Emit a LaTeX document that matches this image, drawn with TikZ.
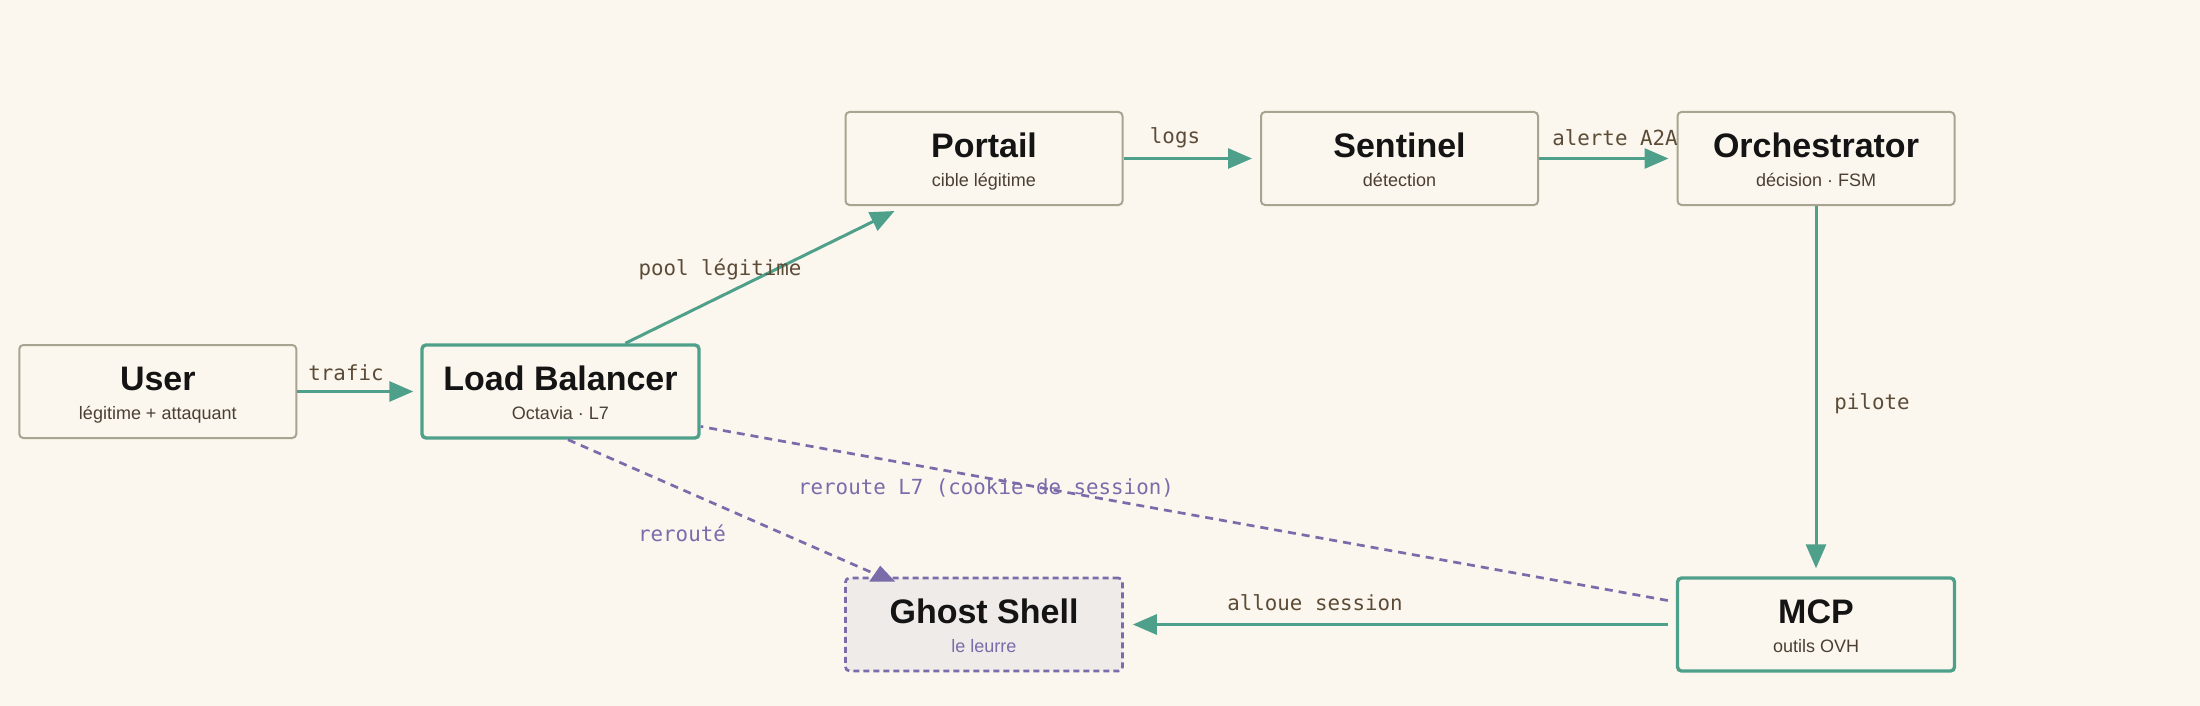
\documentclass[tikz,border=0pt]{standalone}
\usepackage{fontspec}
\setmainfont{Liberation Sans}
\newfontfamily\monof{DejaVu Sans Mono}
\usetikzlibrary{arrows.meta,calc}
\definecolor{bgc}{HTML}{FBF7EE}
\definecolor{grayb}{HTML}{A9A491}
\definecolor{tealc}{HTML}{4FA08B}
\definecolor{purplec}{HTML}{7A6BAA}
\definecolor{ghostfill}{HTML}{EFEBE8}
\definecolor{titlec}{HTML}{141414}
\definecolor{subc}{HTML}{4B3F33}
\definecolor{lblc}{HTML}{5C4B37}
\begin{document}
\begin{tikzpicture}[x=0.5pt,y=-0.5pt,
  box/.style={draw=grayb, line width=1pt, rounded corners=2pt, fill=bgc,
    minimum width=138.5pt, minimum height=46.5pt, inner sep=0pt},
  boxhi/.style={box, draw=tealc, line width=1.7pt},
  ghostbox/.style={box, draw=purplec, fill=ghostfill, line width=1.3pt, dash pattern=on 3pt off 2pt},
  titletxt/.style={anchor=base, inner sep=0pt, font=\fontsize{17}{20}\selectfont\bfseries, text=titlec},
  subtxt/.style={anchor=base, inner sep=0pt, font=\fontsize{9}{11}\selectfont, text=subc},
  lbl/.style={inner sep=0pt, font=\monof\fontsize{10.4}{12}\selectfont, text=lblc},
  plbl/.style={lbl, text=purplec},
  tarrow/.style={draw=tealc, line width=1.5pt, -{Triangle[length=12pt,width=10pt]}},
  pline/.style={draw=purplec, line width=1.35pt, dash pattern=on 4pt off 3pt}
]
\fill[bgc] (0,0) rectangle (2200,706);
\useasboundingbox (0,0) rectangle (2200,706);

% boxes
\node[box]      (user)    at (157.8,391.5) {};
\node[boxhi]    (lb)      at (560.5,391.5) {};
\node[box]      (portail) at (984,158.5) {};
\node[box]      (sentinel) at (1399.5,158.5) {};
\node[box]      (orch)    at (1816,158.5) {};
\node[ghostbox] (ghost)   at (984,624.5) {};
\node[boxhi]    (mcp)     at (1816,624.5) {};

% texts
\node[titletxt] (t-user) at ([yshift=0.4pt]user.center) {User};
\node[subtxt]   (s-user) at ([yshift=-13.75pt]user.center) {légitime + attaquant};
\node[titletxt] (t-lb) at ([yshift=0.4pt]lb.center) {Load Balancer};
\node[subtxt]   (s-lb) at ([yshift=-13.75pt]lb.center) {Octavia · L7};
\node[titletxt] (t-portail) at ([yshift=0.4pt]portail.center) {Portail};
\node[subtxt]   (s-portail) at ([yshift=-13.75pt]portail.center) {cible légitime};
\node[titletxt] (t-sentinel) at ([yshift=0.4pt]sentinel.center) {Sentinel};
\node[subtxt]   (s-sentinel) at ([yshift=-13.75pt]sentinel.center) {détection};
\node[titletxt] (t-orch) at ([yshift=0.4pt]orch.center) {Orchestrator};
\node[subtxt]   (s-orch) at ([yshift=-13.75pt]orch.center) {décision · FSM};
\node[titletxt] (t-ghost) at ([yshift=0.4pt]ghost.center) {Ghost Shell};
\node[subtxt, text=purplec] (s-ghost) at ([yshift=-13.75pt]ghost.center) {le leurre};
\node[titletxt] (t-mcp) at ([yshift=0.4pt]mcp.center) {MCP};
\node[subtxt]   (s-mcp) at ([yshift=-13.75pt]mcp.center) {outils OVH};

% connectors
\draw[tarrow, shorten >=3.5pt] (user.east) -- (lb.west);
\draw[tarrow] ([xshift=102.5pt]lb.north west) -- ([xshift=25pt,yshift=-2.5pt]portail.south west);
\draw[tarrow, shorten >=4pt] (portail.east) -- (sentinel.west);
\draw[tarrow, shorten >=4pt] (sentinel.east) -- (orch.west);
\draw[tarrow, shorten >=4pt] (orch.south) -- (mcp.north);
\draw[tarrow, shorten <=4pt, shorten >=4.5pt] (mcp.west) -- (ghost.east);
\draw[pline] ([xshift=3.75pt]lb.south) -- ([xshift=14pt,yshift=2pt]ghost.north west);
\fill[purplec] ([xshift=18pt,yshift=5.5pt]ghost.north west) -- ([xshift=12.5pt,yshift=-2.5pt]ghost.north west) -- ([xshift=25.5pt,yshift=-2.5pt]ghost.north west) -- cycle;
\draw[pline] ([xshift=-4pt,yshift=12pt]mcp.west) -- ([yshift=-17.5pt]lb.east);

% labels
\node[lbl] (l-trafic) at (346,373) {trafic};
\node[lbl] (l-pool) at (720,269) {pool légitime};
\node[lbl] (l-logs) at (1175,137.5) {logs};
\node[lbl] (l-alerte) at (1615,137.5) {alerte A2A};
\node[lbl] (l-pilote) at (1872,404) {pilote};
\node[lbl] (l-alloue) at (1315,603) {alloue session};
\node[plbl] (l-reroute) at (682,533) {rerouté};
\node[plbl] (l-l7) at (986,488) {reroute L7 (cookie de session)};
\end{tikzpicture}
\end{document}
